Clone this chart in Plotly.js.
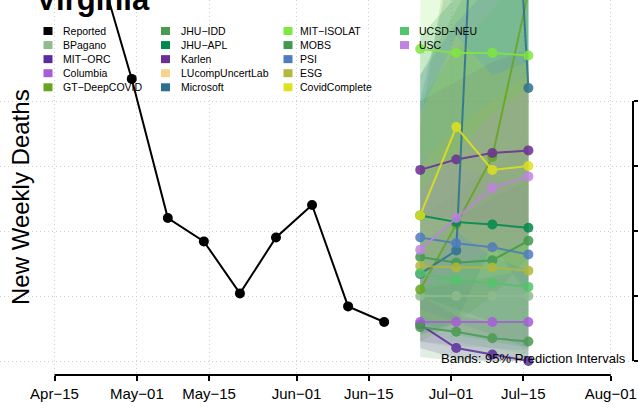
<!DOCTYPE html>
<html><head><meta charset="utf-8">
<script src="https://cdn.plot.ly/plotly-3.0.1.min.js"></script>
<style>html,body{margin:0;padding:0;background:#fff;} #chart{width:638px;height:413px;}</style>
</head><body><div id="chart"></div>
<script>
// ---------- data ----------
const reportedDates = ['2020-04-23','2020-04-30','2020-05-07','2020-05-14','2020-05-21','2020-05-28','2020-06-04','2020-06-11','2020-06-18'];
const reportedValues = [312, 217, 110, 92, 52, 95, 120, 42, 30];
const forecastDates = ['2020-06-25','2020-07-02','2020-07-09','2020-07-16'];

const xTickDates = ['2020-04-15','2020-05-01','2020-05-15','2020-06-01','2020-06-15','2020-07-01','2020-07-15','2020-08-01'];
const xTickLabels = ['Apr\u221215','May\u221201','May\u221215','Jun\u221201','Jun\u221215','Jul\u221201','Jul\u221215','Aug\u221201'];
const yTickValues = [0, 50, 100, 150, 200];

const legendNames = ['Reported','BPagano','MIT\u2212ORC','Columbia','GT\u2212DeepCOVID','JHU\u2212IDD','JHU\u2212APL','Karlen','LUcompUncertLab','Microsoft','MIT\u2212ISOLAT','MOBS','PSI','ESG','CovidComplete','UCSD\u2212NEU','USC'];
const legendColors = ['#000000','#8fbc8f','#5a2ca0','#a85cd8','#66a61e','#4a9a4f','#00894a','#6a2e94','#f8d38c','#2c7090','#7fe83f','#41994f','#4f7bbf','#b2b83a','#e0e21c','#52c46a','#c183e2'];

// point forecasts (median) per model
const medBPagano      = [50, 50, 50, 50];
const medMITORC       = [28, 10, 5, 0];
const medColumbia     = [30, 30, 30, 30];
const medGTDeepCOVID  = [55, 105, 157, 284];
const medJHUIDD       = [26, 22.5, 17.5, 15];
const medJHUAPL       = [112, 107, 105, 102.5];
const medKarlen       = [147, 155, 160, 162];
const medMicrosoft    = [67, 85, 685, 210];
const medMITISOLAT    = [240, 237, 237, 235];
const medMOBS         = [80, 75.5, 77.5, 92.5];
const medPSI          = [95, 90.5, 87.5, 82];
const medESG          = [73, 72, 72, 69.5];
const medCovidComplete= [112, 180, 147, 150];
const medUCSDNEU      = [67.5, 62, 60, 57];
const medUSC          = [85.5, 110, 133, 142];

// 95% prediction interval bounds per model
const loBPagano = [15, 10, 5, 0],         hiBPagano = [110, 130, 150, 170];
const loMITORC = [10, 2, 0, 0],           hiMITORC = [50, 35, 30, 25];
const loColumbia = [15, 12, 10, 8],       hiColumbia = [55, 60, 65, 70];
const loGTDeepCOVID = [15, 30, 50, 80],   hiGTDeepCOVID = [180, 340, 520, 800];
const loJHUIDD = [3, 0, 0, 0],            hiJHUIDD = [90, 110, 125, 140];
const loJHUAPL = [50, 40, 30, 25],        hiJHUAPL = [250, 280, 300, 330];
const loKarlen = [110, 110, 105, 100],    hiKarlen = [200, 215, 230, 240];
const loMicrosoft = [20, 30, 90, 50],     hiMicrosoft = [200, 320, 1500, 600];
const loMITISOLAT = [160, 150, 140, 130], hiMITISOLAT = [350, 380, 400, 420];
const loMOBS = [30, 20, 15, 10],          hiMOBS = [220, 270, 320, 360];
const loPSI = [40, 30, 20, 10],           hiPSI = [220, 260, 290, 320];
const loESG = [35, 25, 20, 15],           hiESG = [150, 180, 200, 220];
const loCovidComplete = [60, 100, 80, 70],hiCovidComplete = [190, 250, 220, 230];
const loUCSDNEU = [25, 15, 10, 5],        hiUCSDNEU = [200, 240, 270, 300];
const loUSC = [55, 70, 85, 90],           hiUSC = [130, 160, 190, 210];

// ---------- build ----------
const colorOf = n => legendColors[legendNames.indexOf(n)];
const forecastModels = [
  ['BPagano', medBPagano, loBPagano, hiBPagano],
  ['MIT\u2212ORC', medMITORC, loMITORC, hiMITORC],
  ['Columbia', medColumbia, loColumbia, hiColumbia],
  ['GT\u2212DeepCOVID', medGTDeepCOVID, loGTDeepCOVID, hiGTDeepCOVID],
  ['JHU\u2212IDD', medJHUIDD, loJHUIDD, hiJHUIDD],
  ['JHU\u2212APL', medJHUAPL, loJHUAPL, hiJHUAPL],
  ['Karlen', medKarlen, loKarlen, hiKarlen],
  ['Microsoft', medMicrosoft, loMicrosoft, hiMicrosoft],
  ['MIT\u2212ISOLAT', medMITISOLAT, loMITISOLAT, hiMITISOLAT],
  ['MOBS', medMOBS, loMOBS, hiMOBS],
  ['PSI', medPSI, loPSI, hiPSI],
  ['ESG', medESG, loESG, hiESG],
  ['CovidComplete', medCovidComplete, loCovidComplete, hiCovidComplete],
  ['UCSD\u2212NEU', medUCSDNEU, loUCSDNEU, hiUCSDNEU],
  ['USC', medUSC, loUSC, hiUSC]
];

const traces = [];
forecastModels.forEach(([name, med, lo, hi]) => {
  traces.push({
    x: forecastDates.concat(forecastDates.slice().reverse()),
    y: hi.concat(lo.slice().reverse()),
    type: 'scatter', mode: 'lines', fill: 'toself',
    fillcolor: colorOf(name), opacity: 0.17,
    line: {width: 0}, hoverinfo: 'skip', showlegend: false
  });
});
forecastModels.forEach(([name, med]) => {
  traces.push({
    x: forecastDates, y: med, type: 'scatter', mode: 'lines+markers', name: name,
    line: {color: colorOf(name), width: 2},
    marker: {color: colorOf(name), size: 10},
    opacity: 0.85, showlegend: false
  });
});
traces.push({
  x: reportedDates, y: reportedValues, type: 'scatter', mode: 'lines+markers', name: 'Reported',
  line: {color: '#000', width: 2}, marker: {color: '#000', size: 10}, showlegend: false
});

// layout helpers (pixel -> paper)
const PW = 633, PH = 375;
const px = v => v / PW, py = v => 1 - v / PH;
const FONT = 'Liberation Sans, Arial, Helvetica, sans-serif';

const annotations = [];
const shapes = [];
const colSq = [43.5, 161, 283.5, 400], colTx = [61, 179, 298, 416.5];
legendNames.forEach((n, i) => {
  const c = Math.floor(i / 5), r = i % 5;
  const yc = 31 + 14.07 * r;
  shapes.push({type: 'rect', xref: 'paper', yref: 'paper', x0: px(colSq[c]), x1: px(colSq[c] + 9),
    y0: py(yc - 4), y1: py(yc + 4), fillcolor: legendColors[i], line: {width: 0}});
  annotations.push({text: n, xref: 'paper', yref: 'paper', x: px(colTx[c]), y: py(yc),
    xanchor: 'left', yanchor: 'middle', showarrow: false, font: {family: FONT, size: 10.5, color: '#000'}});
});
annotations.push({text: '<b>Virginia</b>', xref: 'paper', yref: 'paper', x: px(34), y: 1,
  xanchor: 'left', yanchor: 'bottom', yshift: -19, showarrow: false, font: {family: FONT, size: 31, color: '#000'}});
annotations.push({text: 'New Weekly Deaths', xref: 'paper', yref: 'paper', x: px(20), y: py(197),
  xanchor: 'center', yanchor: 'middle', textangle: -90, showarrow: false, font: {family: FONT, size: 24, color: '#000'}});
annotations.push({text: 'Bands: 95% Prediction Intervals', xref: 'paper', yref: 'paper', x: px(628), y: py(358),
  xanchor: 'right', yanchor: 'middle', showarrow: false, font: {family: FONT, size: 13, color: '#000'}});

// axis lines spanning first to last tick, as in base R
shapes.push({type: 'line', xref: 'x', yref: 'paper', x0: xTickDates[0], x1: xTickDates[xTickDates.length - 1],
  y0: 0, y1: 0, line: {color: '#000', width: 2}});
shapes.push({type: 'line', xref: 'paper', yref: 'y', x0: 1, x1: 1,
  y0: yTickValues[0], y1: yTickValues[yTickValues.length - 1], line: {color: '#000', width: 2}});

const layout = {
  width: 638, height: 413,
  margin: {l: 0, r: 5, t: 0, b: 38},
  paper_bgcolor: '#fff', plot_bgcolor: '#fff',
  showlegend: false,
  font: {family: FONT, color: '#000'},
  xaxis: {
    type: 'date', range: ['2020-04-04 10:05', '2020-08-05 07:26'],
    tickvals: xTickDates, ticktext: xTickLabels, tickfont: {size: 15, family: FONT},
    ticks: 'outside', ticklen: 5, tickwidth: 2, tickcolor: '#000',
    showline: false, zeroline: false,
    showgrid: true, gridcolor: '#cfcfcf', gridwidth: 1, griddash: '1px,3px'
  },
  yaxis: {
    range: [-10.77, 277.7], side: 'right',
    tickvals: yTickValues, showticklabels: false,
    ticks: 'outside', ticklen: 6, tickwidth: 2, tickcolor: '#000',
    showline: false, zeroline: false,
    showgrid: true, gridcolor: '#cfcfcf', gridwidth: 1, griddash: '1px,3px'
  },
  shapes: shapes,
  annotations: annotations
};

Plotly.newPlot('chart', traces, layout, {staticPlot: true, displayModeBar: false});
</script>
</body></html>
